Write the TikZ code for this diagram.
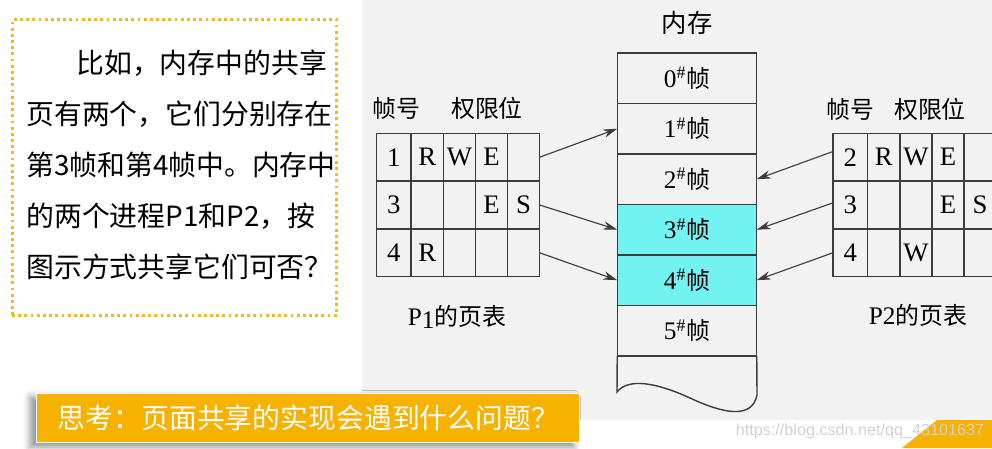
\documentclass[tikz,border=0pt]{standalone}
\usepackage{fontspec}
\setmainfont{Liberation Serif}
\newfontfamily\cjk{Noto Sans CJK SC}
\newfontfamily\urlfont{Liberation Sans}
\usepackage{tikz}
\usetikzlibrary{arrows.meta, positioning, matrix, shadows.blur}
\definecolor{panelgray}{RGB}{242, 242, 242}
\definecolor{frameline}{RGB}{60, 60, 60}
\definecolor{sharedcyan}{RGB}{114, 242, 240}
\definecolor{noteorange}{RGB}{247, 178, 0}
\definecolor{dotorange}{RGB}{250, 184, 20}
\newcommand{\framelabel}[1]{#1\textsuperscript{\#}{\cjk\fontsize{17}{17}\selectfont 帧}}

\begin{document}
\begin{tikzpicture}[
    x=0.025cm, y=-0.025cm,
    frame/.style={rectangle, draw=frameline, line width=1pt, outer sep=0pt, inner sep=0pt,
                  minimum width=99.2pt, minimum height=35.9pt, font=\fontsize{18}{18}\selectfont},
    shared/.style={frame, fill=sharedcyan},
    cell/.style={rectangle, draw=frameline, line width=1pt, outer sep=0pt, inner sep=0pt,
                 anchor=center, minimum width=22.85pt, minimum height=34pt, font=\fontsize{19}{19}\selectfont},
    ptable/.style={matrix of nodes, nodes in empty cells, nodes={cell}, inner sep=0pt,
                   column sep=-1pt, row sep=-1pt, column 1/.style={nodes={minimum width=24.8pt}}},
    head/.style={font=\cjk\fontsize{17}{17}\selectfont},
    arrow/.style={-{Stealth[length=10pt, width=6pt]}, line width=0.8pt, draw=frameline}
]
\useasboundingbox (0,0) rectangle (992,448);
\fill[panelgray] (362,0) rectangle (992,420);

% question box
\node[draw=dotorange, line width=2.2pt, dash pattern=on 2pt off 2.4pt,
      minimum width=231pt, minimum height=210pt] (qbox) at (174.5,167.5) {};
\node[font=\cjk\fontsize{19.8}{36.2}\selectfont, align=left, inner sep=0pt] (qtext) at (181,165)
    {\hspace*{1.8em}比如，内存中的共享\\页有两个，它们分别存在\\第3帧和第4帧中。内存中\\的两个进程P1和P2，按\\图示方式共享它们可否？};

% memory
\node[head, font=\cjk\fontsize{18}{18}\selectfont] (memlabel) at (687,23) {内存};
\node[frame] (m0) at (687,78.25) {\framelabel{0}};
\node[frame, below=0pt of m0] (m1) {\framelabel{1}};
\node[frame, below=0pt of m1] (m2) {\framelabel{2}};
\node[shared, below=0pt of m2] (m3) {\framelabel{3}};
\node[shared, below=0pt of m3] (m4) {\framelabel{4}};
\node[frame, below=0pt of m4] (m5) {\framelabel{5}};
\draw[frameline, line width=1pt] (m5.south west) -- (617,392)
    .. controls (628,378) and (655,382) .. (690,398)
    .. controls (722,413) and (752,420) .. (757,395) -- (m5.south east);

% page tables
\node[head] (h1) at (396,108) {帧号};
\node[head] (h2) at (487,108) {权限位};
\matrix[ptable] (p1) at (458,205) {
    1 & R & W & E & \\
    3 &   &   & E & S \\
    4 & R &   &   & \\
};
\node[font=\fontsize{18}{18}\selectfont] (p1name) at (457,317) {P\raisebox{-2.5pt}{1}{\cjk\fontsize{17}{17}\selectfont 的页表}};

\node[head] (h3) at (850,109) {帧号};
\node[head] (h4) at (930,109) {权限位};
\matrix[ptable] (p2) at (914.5,205) {
    2 & R & W & E & \\
    3 &   &   & E & S \\
    4 &   & W &   & \\
};
\node[font=\fontsize{18}{18}\selectfont] (p2name) at (918,315) {P2{\cjk\fontsize{17}{17}\selectfont 的页表}};

\draw[arrow] (p1-1-5.east) -- (m1.west);
\draw[arrow] (p1-2-5.east) -- (m3.west);
\draw[arrow] (p1-3-5.east) -- (m4.west);
\draw[arrow] ([yshift=4pt]p2-1-1.west) -- (m2.east);
\draw[arrow] ([yshift=1.5pt]p2-2-1.west) -- (m3.east);
\draw[arrow] (p2-3-1.west) -- (m4.east);

% bottom banner
\node[fill=noteorange, draw=white, line width=0.6pt, minimum height=35.4pt, text width=355pt,
      inner xsep=15.6pt, align=left, text=white, font=\cjk\fontsize{19.8}{19.8}\selectfont,
      blur shadow={shadow xshift=-4pt, shadow yshift=-3pt, shadow blur radius=5pt, shadow opacity=45}]
    (think) at (307.5,418) {思考：页面共享的实现会遇到什么问题？};

\fill[noteorange] (902,448) -- (937,420) -- (992,420) -- (992,448) -- cycle;
\node[font=\urlfont\fontsize{11.5}{11.5}\selectfont, text=white!82!black] (mark) at (860,431)
    {https://blog.csdn.net/qq\_43101637};

\end{tikzpicture}
\end{document}
